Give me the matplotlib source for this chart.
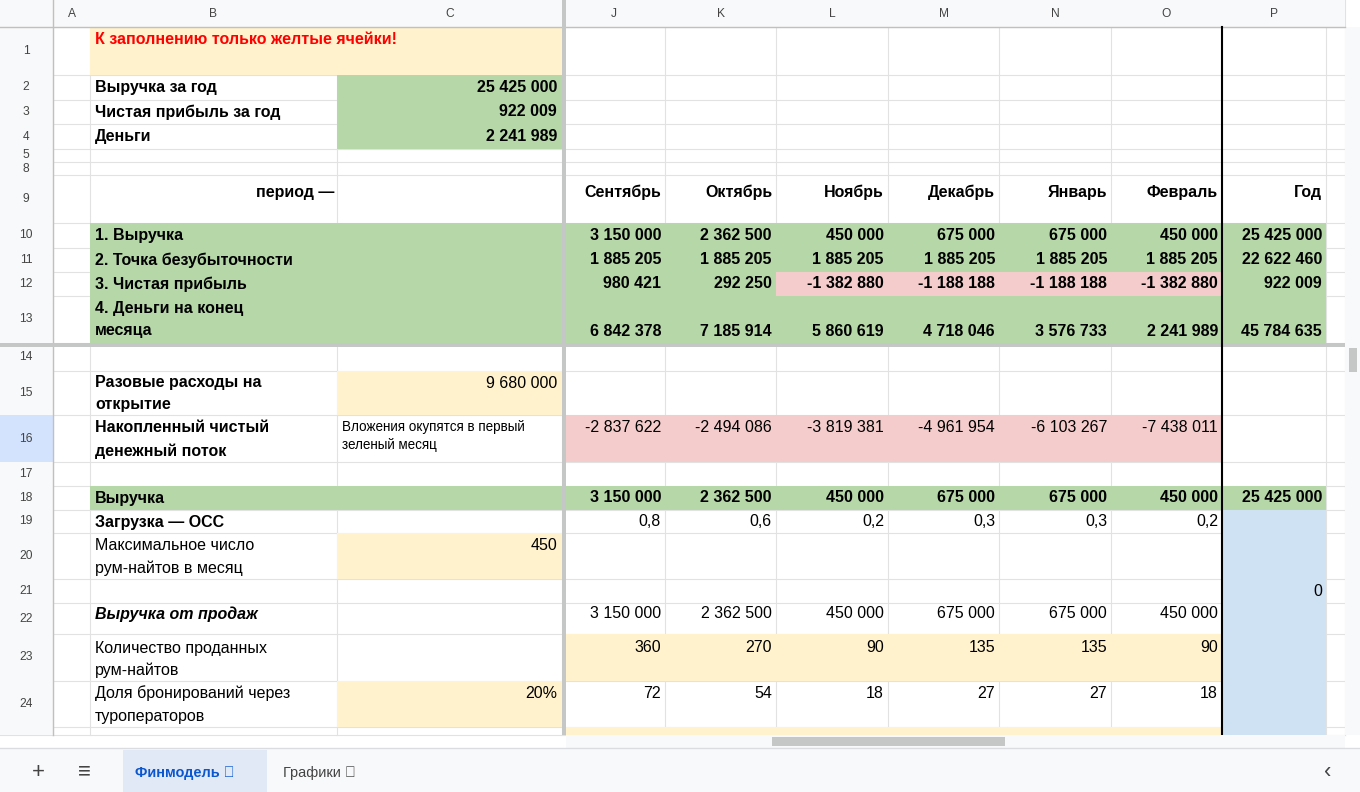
import matplotlib
matplotlib.use("Agg")
import matplotlib.pyplot as plt
from matplotlib.patches import Rectangle

months = ["Сентябрь", "Октябрь", "Ноябрь", "Декабрь", "Январь", "Февраль"]
revenue = ["3 150 000", "2 362 500", "450 000", "675 000", "675 000", "450 000"]
breakeven = ["1 885 205"] * 6
profit = ["980 421", "292 250", "-1 382 880", "-1 188 188", "-1 188 188", "-1 382 880"]
cash_end = ["6 842 378", "7 185 914", "5 860 619", "4 718 046", "3 576 733", "2 241 989"]
cumulative = ["-2 837 622", "-2 494 086", "-3 819 381", "-4 961 954", "-6 103 267", "-7 438 011"]
load = ["0,8", "0,6", "0,2", "0,3", "0,3", "0,2"]
sold = ["360", "270", "90", "135", "135", "90"]
to_share = ["72", "54", "18", "27", "27", "18"]
year_vals = ["25 425 000", "22 622 460", "922 009", "45 784 635"]
summary_labels = ["Выручка за год", "Чистая прибыль за год", "Деньги"]
summary_vals = ["25 425 000", "922 009", "2 241 989"]
col_letters = ["A", "B", "C", "J", "K", "L", "M", "N", "O", "P"]
row_numbers = ["1", "2", "3", "4", "5", "8", "9", "10", "11", "12", "13", "14", "15",
               "16", "17", "18", "19", "20", "21", "22", "23", "24", ""]

YEL, GRN, RED, BLU = "#fff2cc", "#b6d7a8", "#f4cccc", "#cfe2f3"
GRID = "#e2e2e2"
FONT = "Liberation Sans"
PT = 0.72

fig = plt.figure(figsize=(13.6, 7.92), dpi=100)
ax = fig.add_axes([0, 0, 1, 1])
ax.set_xlim(0, 1360); ax.set_ylim(792, 0); ax.axis("off")

cx = [53, 90, 337, 562, 665, 776, 888, 999, 1111, 1222, 1326]
ry = [27, 75, 100, 124, 149, 162, 175, 223, 248, 272, 296, 343, 371, 415, 462, 486, 510,
      533, 579, 603, 634, 681, 727, 735]
mcols = [(cx[3] + 4 if i == 0 else cx[3 + i], cx[4 + i]) for i in range(6)]
P = (cx[9], cx[10])

def row(i):  # i index into ry spans
    return ry[i], ry[i + 1]

def fill(x0, x1, y0, y1, c):
    ax.add_patch(Rectangle((x0, y0), x1 - x0, y1 - y0, facecolor=c, edgecolor="none", zorder=1))

def txt(x, y, s, size=16, bold=False, ha="left", va="center", color="black", italic=False, z=5):
    ax.text(x, y, s, fontsize=size * PT, fontweight="bold" if bold else "normal",
            style="italic" if italic else "normal", ha=ha, va=va, color=color, family=FONT, zorder=z)

# grid lines
for x in cx + [1345]:
    ax.plot([x, x], [0, 735], color=GRID, lw=0.8, zorder=0)
for y in ry:
    ax.plot([0, 1345], [y, y], color=GRID, lw=0.8, zorder=0)

# fills
fill(90, 562, *row(0), YEL)
for i in (1, 2, 3):
    fill(337, 562, *row(i), GRN)
for i in (7, 8, 9, 10):
    fill(90, 1326, *row(i), GRN)
for k in range(2, 6):
    fill(*mcols[k], *row(9), RED)
fill(337, 562, *row(12), YEL)
fill(566, 1222, *row(13), RED)
fill(90, 1326, *row(15), GRN)
fill(337, 562, *row(17), YEL)
fill(566, 1222, *row(20), YEL)
fill(337, 562, *row(21), YEL)
fill(566, 1222, *row(22), YEL)
fill(1222, 1326, 510, 735, BLU)

# headers
fill(0, 1345, 0, 27, "#f8f9fa")
fill(0, 53, 0, 735, "#f8f9fa")
hx = [(53, 90), (90, 337), (337, 562)] + [(cx[3 + i], cx[4 + i]) for i in range(7)]
for (a, b), l in zip(hx, col_letters):
    txt((a + b) / 2, 14, l, size=12, ha="center", color="#444")
for i, l in enumerate(row_numbers):
    y0, y1 = row(i)
    if i == 13:
        fill(0, 53, y0, y1, "#d3e3fd")
    txt(26, (y0 + y1) / 2, l, size=12, ha="center", color="#444")
ax.plot([0, 1345], [27, 27], color="#c0c0c0", lw=1, zorder=3)
ax.plot([53, 53], [0, 735], color="#c0c0c0", lw=1, zorder=3)
# frozen dividers
fill(562, 566, 0, 735, "#c4c7c5"); ax.patches[-1].set_zorder(4)
fill(0, 1345, 343, 347, "#c4c7c5"); ax.patches[-1].set_zorder(4)
ax.plot([1222, 1222], [27, 735], color="black", lw=1.5, zorder=4)

# content
txt(95, 40, "К заполнению только желтые ячейки!", bold=True, color="#ff0000")
for i, (l, v) in enumerate(zip(summary_labels, summary_vals)):
    y0, y1 = row(i + 1)
    txt(95, (y0 + y1) / 2, l, bold=True)
    txt(557, (y0 + y1) / 2, v, bold=True, ha="right")
txt(334, 192, "период —", bold=True, ha="right")
for k, m in enumerate(months):
    txt(mcols[k][1] - 4, 192, m, bold=True, ha="right")
txt(P[1] - 4, 192, "Год", bold=True, ha="right")

labels = ["1. Выручка", "2. Точка безубыточности", "3. Чистая прибыль"]
for j, (l, vals) in enumerate(zip(labels, [revenue, breakeven, profit])):
    y0, y1 = row(7 + j); ym = (y0 + y1) / 2
    txt(95, ym, l, bold=True)
    for k, v in enumerate(vals):
        txt(mcols[k][1] - 4, ym, v, bold=True, ha="right")
    txt(P[1] - 4, ym, year_vals[j], bold=True, ha="right")
txt(95, 308, "4. Деньги на конец", bold=True)
txt(95, 331, "месяца", bold=True)
for k, v in enumerate(cash_end):
    txt(mcols[k][1] - 4, 331, v, bold=True, ha="right")
txt(P[1] - 4, 331, year_vals[3], bold=True, ha="right")

txt(95, 383, "Разовые расходы на", bold=True)
txt(95, 405, "открытие", bold=True)
txt(557, 383, "9 680 000", ha="right")
txt(95, 428, "Накопленный чистый", bold=True)
txt(95, 451, "денежный поток", bold=True)
txt(342, 427, "Вложения окупятся в первый", size=13.5)
txt(342, 445, "зеленый месяц", size=13.5)
for k, v in enumerate(cumulative):
    txt(mcols[k][1] - 4, 428, v, ha="right")

txt(95, 498, "Выручка", bold=True)
for k, v in enumerate(revenue):
    txt(mcols[k][1] - 4, 498, v, bold=True, ha="right")
txt(P[1] - 4, 498, year_vals[0], bold=True, ha="right")
txt(95, 522, "Загрузка — ОСС", bold=True)
for k, v in enumerate(load):
    txt(mcols[k][1] - 4, 522, v, ha="right")
txt(95, 546, "Максимальное число")
txt(95, 568, "рум-найтов в месяц")
txt(557, 546, "450", ha="right")
txt(P[1] - 4, 591, "0", ha="right")
txt(95, 614, "Выручка от продаж", bold=True, italic=True)
for k, v in enumerate(revenue):
    txt(mcols[k][1] - 4, 614, v, ha="right")
txt(95, 648, "Количество проданных")
txt(95, 670, "рум-найтов")
for k, v in enumerate(sold):
    txt(mcols[k][1] - 4, 648, v, ha="right")
txt(95, 693, "Доля бронирований через")
txt(95, 716, "туроператоров")
txt(557, 693, "20%", ha="right")
for k, v in enumerate(to_share):
    txt(mcols[k][1] - 4, 693, v, ha="right")

# scrollbars
fill(1345, 1360, 27, 735, "#f8f9fa")
fill(1349, 1357, 348, 372, "#c4c7c5")
fill(566, 1345, 735, 748, "#f8f9fa"); ax.patches[-1].set_zorder(6)
fill(772, 1005, 737, 746, "#c4c7c5"); ax.patches[-1].set_zorder(7)
# tab bar
fill(0, 1360, 748, 792, "#f8f9fa"); ax.patches[-1].set_zorder(6)
ax.plot([0, 1360], [748, 748], color="#dadce0", lw=1, zorder=7)
fill(123, 267, 750, 792, "#e1e9f7"); ax.patches[-1].set_zorder(7)
txt(38, 772, "+", size=22, ha="center", color="#444", z=8)
txt(84, 772, "≡", size=22, ha="center", color="#444", z=8)
txt(135, 773, "Финмодель ▾", size=14.5, bold=True, color="#0b57d0", z=8)
txt(283, 773, "Графики ▾", size=14.5, color="#444", z=8)
txt(1328, 772, "‹", size=22, ha="center", color="#444", z=8)

fig.savefig("out.png", dpi=100)
